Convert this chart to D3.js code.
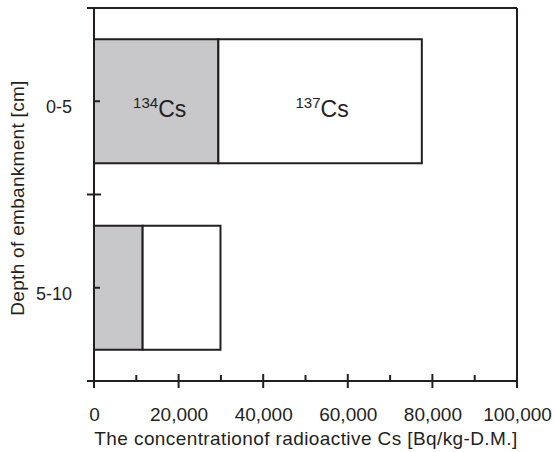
<!DOCTYPE html>
<html><head><meta charset="utf-8">
<script src="https://cdn.jsdelivr.net/npm/d3@7"></script>
<style>body{margin:0;background:#fff}svg{display:block}text{font-family:"Liberation Sans",Arial,sans-serif;fill:#231f20}</style>
</head><body>
<script>
const categories = ["0-5", "5-10"];
const cs134 = [29400, 11500];
const cs137 = [48100, 18400];
const xTicks = [0, 20000, 40000, 60000, 80000, 100000];
const xTickLabels = ["0", "20,000", "40,000", "60,000", "80,000", "100,000"];
const seriesNames = ["134", "137"];

const W = 555, H = 452;
const m = {left: 94, right: 38, top: 8, bottom: 71};
const ink = "#231f20";
const svg = d3.select("body").append("svg").attr("width", W).attr("height", H);

const x = d3.scaleLinear().domain([0, 100000]).range([m.left, W - m.right]);
const y = d3.scaleBand().domain(categories).range([m.top, H - m.bottom]).paddingInner(0.335).paddingOuter(0.1675);
const yOuter = d3.scaleBand().domain(categories).range([m.top, H - m.bottom]);

// bars
const data = categories.map((c, i) => ({c, a: cs134[i], b: cs137[i]}));
const g = svg.append("g");
g.selectAll("rect.a").data(data).join("rect").attr("class", "a")
  .attr("x", x(0)).attr("y", d => y(d.c)).attr("width", d => x(d.a) - x(0)).attr("height", y.bandwidth())
  .attr("fill", "#c8c8ca").attr("stroke", ink).attr("stroke-width", 2);
g.selectAll("rect.b").data(data).join("rect").attr("class", "b")
  .attr("x", d => x(d.a)).attr("y", d => y(d.c)).attr("width", d => x(d.a + d.b) - x(d.a)).attr("height", y.bandwidth())
  .attr("fill", "#fff").attr("stroke", ink).attr("stroke-width", 2);

// frame: top and right
svg.append("line").attr("x1", x(0) - 7).attr("x2", x(100000)).attr("y1", m.top).attr("y2", m.top).attr("stroke", ink).attr("stroke-width", 2);
svg.append("line").attr("x1", x(100000)).attr("x2", x(100000)).attr("y1", m.top).attr("y2", H - m.bottom).attr("stroke", ink).attr("stroke-width", 2);

// x axis
const yAxis0 = H - m.bottom;
const xa = svg.append("g").attr("transform", `translate(0,${yAxis0})`);
xa.call(d3.axisBottom(x).tickValues(xTicks).tickSize(0).tickFormat((d, i) => xTickLabels[i]));
xa.select(".domain").remove();
xa.append("line").attr("x1", x(0) - 7).attr("x2", x(100000)).attr("stroke", ink).attr("stroke-width", 2);
xa.selectAll(".tick text").attr("dy", 0).attr("y", 40).style("font-size", "19px").style("font-family", "Liberation Sans, Arial, sans-serif").attr("fill", ink);
xa.selectAll(".maj").data(xTicks).join("line").attr("class", "maj")
  .attr("x1", d => x(d)).attr("x2", d => x(d)).attr("y1", -7).attr("y2", 7).attr("stroke", ink).attr("stroke-width", 2);
const minor = d3.range(10000, 100000, 20000);
xa.selectAll(".min").data(minor).join("line").attr("class", "min")
  .attr("x1", d => x(d)).attr("x2", d => x(d)).attr("y1", -6).attr("y2", 0).attr("stroke", ink).attr("stroke-width", 2);

// y axis
const ya = svg.append("g").attr("transform", `translate(${x(0)},0)`);
ya.call(d3.axisLeft(yOuter).tickSize(0).tickPadding(22));
ya.select(".domain").remove();
ya.append("line").attr("y1", m.top).attr("y2", H - m.bottom + 7).attr("stroke", ink).attr("stroke-width", 2);
ya.selectAll(".tick text").attr("dy", "0.32em").attr("y", 6).style("font-size", "18px").style("font-family", "Liberation Sans, Arial, sans-serif").attr("fill", ink);
const bounds = [m.top, yOuter("5-10"), H - m.bottom];
ya.selectAll(".bd").data(bounds).join("line").attr("class", "bd")
  .attr("x1", -7).attr("x2", 7).attr("y1", d => d).attr("y2", d => d).attr("stroke", ink).attr("stroke-width", 2);
ya.selectAll(".ct").data(categories).join("line").attr("class", "ct")
  .attr("x1", 0).attr("x2", 6).attr("y1", d => yOuter(d) + yOuter.bandwidth() / 2).attr("y2", d => yOuter(d) + yOuter.bandwidth() / 2).attr("stroke", ink).attr("stroke-width", 2);

// bar labels
const lab = [
  {sup: seriesNames[0], cx: (x(0) + x(cs134[0])) / 2 + 3.5},
  {sup: seriesNames[1], cx: (x(cs134[0]) + x(cs134[0] + cs137[0])) / 2 + 2}
];
lab.forEach(l => {
  const t = svg.append("text").attr("x", l.cx).attr("y", y("0-5") + y.bandwidth() / 2 + 15.5).attr("text-anchor", "middle").style("font-size", "23px");
  t.append("tspan").text(l.sup).style("font-size", "15px").attr("dy", -8.5);
  t.append("tspan").text("Cs").attr("dy", 8.5);
});

// axis titles
svg.append("text").attr("x", 306).attr("y", 445).attr("text-anchor", "middle").style("font-size", "19px").style("letter-spacing", "0.4px")
  .text("The concentrationof radioactive Cs [Bq/kg-D.M.]");
svg.append("text").attr("transform", `translate(23.5,198) rotate(-90)`).attr("text-anchor", "middle").style("font-size", "19px").style("letter-spacing", "0.3px")
  .text("Depth of embankment [cm]");
</script>
</body></html>
